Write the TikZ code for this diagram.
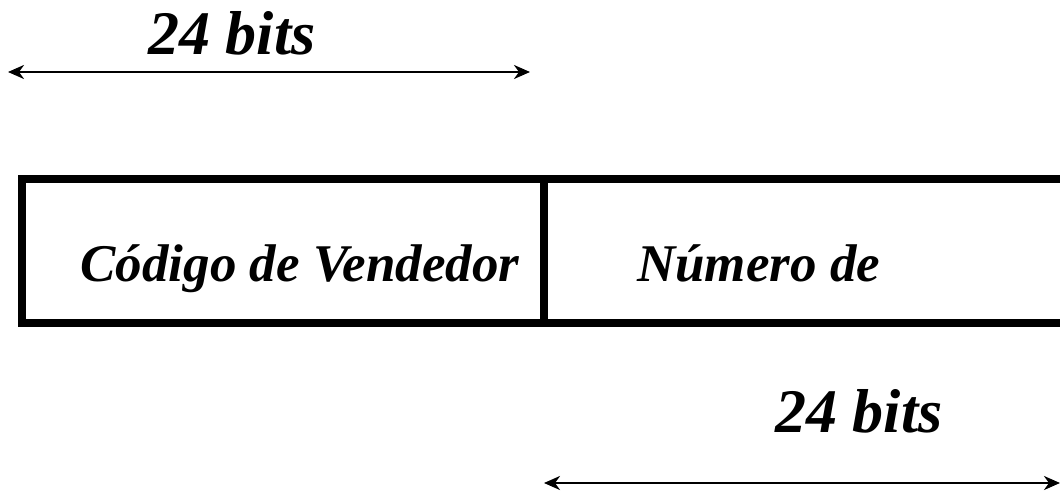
\documentclass[tikz,border=0pt]{standalone}
\usepackage{fontspec}
\setmainfont{Liberation Serif}
\usetikzlibrary{arrows.meta}
\begin{document}
\begin{tikzpicture}[x=1pt,y=-1pt,
  field/.style={draw=black,line width=8pt,rectangle,inner sep=0pt,anchor=north west},
  fieldtext/.style={font=\fontsize{53}{60}\selectfont\bfseries\itshape,inner sep=0pt},
  bitlabel/.style={font=\fontsize{62}{68}\selectfont\bfseries\itshape,inner sep=0pt,anchor=base},
  span/.style={line width=2.5pt,{Stealth[length=16pt,width=14pt,inset=5pt]}-{Stealth[length=16pt,width=14pt,inset=5pt]}}]
\useasboundingbox (0,0) rectangle (1060,492);
% fields
\node[field,minimum width=522pt,minimum height=144pt] (f1) at (18,175) {};
\node[field,minimum width=540pt,minimum height=144pt] (f2) at (540,175) {};
\node[fieldtext,anchor=base] (t1) at (300,281) {Código de Vendedor};
\node[fieldtext,anchor=base west] (t2) at (637,281) {Número de};
% top dimension
\coordinate (a1) at (8,72);
\coordinate (a2) at (530,72);
\node[bitlabel] (b1) at (232,55) {24 bits};
\draw[span] (a1) -- (a2);
% bottom dimension
\coordinate (c1) at (544,483);
\coordinate (c2) at (1060,483);
\node[bitlabel] (b2) at (859,432) {24 bits};
\draw[span] (c1) -- (c2);
\end{tikzpicture}
\end{document}
